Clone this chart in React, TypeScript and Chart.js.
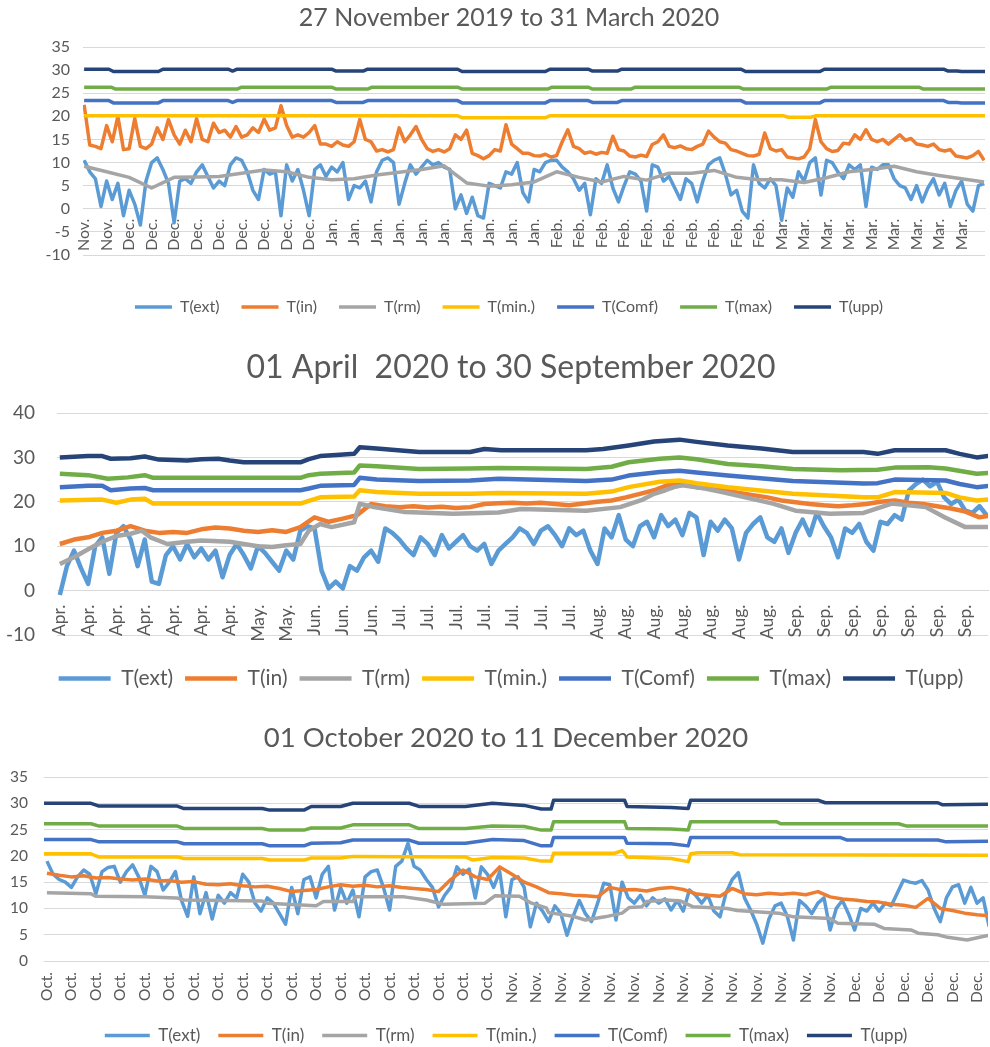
import React, { useEffect, useRef } from 'react';
import { Chart, registerables } from 'chart.js';

Chart.register(...registerables);

const FONT_FAMILY = 'Lato, "Open Sans", "DejaVu Sans", sans-serif';
const TEXT_COLOR = '#595959';
const GRID_COLOR = '#d9d9d9';

const seriesNames = ['T(ext)', 'T(in)', 'T(rm)', 'T(min.)', 'T(Comf)', 'T(max)', 'T(upp)'];
const seriesColors = ['#5B9BD5', '#ED7D31', '#A5A5A5', '#FFC000', '#4472C4', '#70AD47', '#264478'];

type Pair = [number, number];

// ---------------- Chart 1: 27 November 2019 to 31 March 2020 ----------------
const c1Title = '27 November 2019 to 31 March 2020';
const c1Months = ['Nov.', 'Dec.', 'Jan.', 'Feb.', 'Mar.'];
const c1MonthTicks = [2, 9, 10, 10, 9];
const c1Step = 0.25; // tick units between samples
const c1Ext = [
  10.5, 8.0, 6.5, 0.5, 6.0, 2.0, 5.5, -1.5, 4.0, 1.0, -3.5, 6.0, 10.0, 11.0, 8.5, 5.5,
  -3.0, 6.0, 6.5, 5.5, 8.0, 9.5, 7.0, 4.5, 6.0, 5.0, 9.5, 11.0, 10.5, 8.0, 4.0, 2.0,
  8.5, 7.5, 8.0, -1.5, 9.5, 6.0, 8.5, 4.0, -1.5, 8.5, 9.5, 7.0, 9.0, 8.0, 10.0, 2.0,
  5.0, 4.5, 6.0, 1.5, 8.0, 10.5, 11.0, 10.0, 1.0, 5.5, 9.5, 7.5, 9.0, 10.5, 9.5, 10.0,
  9.0, 8.5, 0.0, 3.0, -1.0, 2.5, -1.5, -2.0, 5.5, 5.0, 4.5, 8.0, 7.5, 10.0, 3.5, 1.5,
  8.5, 8.0, 10.0, 10.5, 10.5, 9.0, 8.0, 6.5, 4.0, 5.5, -1.3, 6.5, 5.5, 9.5, 4.5, 1.5,
  5.0, 8.0, 7.5, 6.0, -0.5, 9.5, 9.0, 6.0, 7.0, 4.5, 2.0, 6.5, 5.5, 1.5, 6.0, 9.5,
  10.5, 11.0, 7.5, 3.0, 4.0, -0.5, -2.0, 9.5, 5.5, 4.5, 6.5, 5.0, -2.5, 4.5, 2.5, 8.0,
  6.0, 10.0, 11.0, 3.0, 10.5, 10.0, 8.0, 6.5, 9.5, 8.5, 9.5, 0.5, 9.0, 8.5, 9.5, 9.5,
  6.5, 5.0, 4.5, 2.0, 5.0, 1.5, 4.5, 6.5, 3.0, 5.5, 0.5, 4.0, 6.0, 1.0, -0.5, 5.0,
  5.5,
];
const c1In = [
  22.5, 13.8, 13.5, 13.0, 18.0, 14.5, 20.0, 12.8, 13.0, 19.5, 13.5, 13.0, 14.0, 17.5, 15.0, 19.3,
  16.0, 14.0, 17.0, 14.5, 19.5, 15.0, 14.5, 18.5, 16.5, 17.0, 15.5, 17.8, 15.5, 16.0, 17.5, 16.5,
  19.4, 17.0, 17.5, 22.3, 18.0, 15.5, 16.0, 15.5, 16.5, 18.0, 14.0, 14.0, 13.5, 14.5, 13.8, 13.5,
  14.5, 19.3, 15.0, 14.5, 12.5, 12.8, 12.3, 12.8, 17.5, 14.5, 16.0, 17.8, 15.0, 13.0, 12.4, 12.8,
  12.3, 13.0, 16.0, 15.0, 17.0, 12.0, 11.5, 10.8, 11.5, 12.8, 12.5, 18.2, 14.0, 13.0, 12.0, 12.0,
  11.5, 11.4, 11.8, 11.2, 11.5, 14.5, 17.1, 13.5, 13.0, 12.0, 12.3, 11.8, 12.2, 12.0, 15.7, 12.8,
  12.5, 11.4, 11.2, 11.6, 11.3, 13.9, 14.5, 16.0, 13.5, 13.2, 13.6, 13.0, 12.8, 13.5, 14.0, 16.8,
  15.5, 14.5, 14.2, 12.8, 12.5, 12.0, 11.5, 11.4, 11.8, 16.4, 13.0, 12.5, 12.8, 11.2, 11.0, 10.8,
  11.2, 13.0, 19.3, 14.5, 13.0, 12.4, 12.6, 14.2, 14.0, 16.0, 15.0, 17.1, 15.0, 14.5, 15.0, 14.0,
  15.0, 16.0, 14.8, 15.2, 14.0, 13.8, 13.5, 14.0, 12.8, 12.5, 12.8, 11.4, 11.2, 11.0, 11.5, 12.4,
  10.5,
];
const c1RmStep = 1;
const c1Rm = [
  9.2, 8.0, 6.8, 4.5, 6.8, 6.9, 7.0, 7.7, 8.4, 8.0, 6.8, 6.3, 6.5, 7.3, 7.9, 8.5, 9.3, 5.6, 4.9, 5.2,
  5.8, 8.0, 6.8, 5.8, 7.0, 6.2, 7.7, 7.7, 8.3, 6.8, 6.3, 6.3, 5.7, 6.7, 8.0, 8.5, 9.2, 8.0, 7.2, 6.5, 5.8,
];
const c1Min: Pair[] = [
  [0, 20.1], [16.6, 20.1], [16.8, 19.7], [20.5, 19.7], [20.7, 20.1], [31.1, 20.1], [31.3, 19.8],
  [32.3, 19.8], [32.5, 20.1], [40.1, 20.1],
];
const c1Comf: Pair[] = [
  [0, 23.4], [1.1, 23.4], [1.3, 22.9], [3.3, 22.9], [3.5, 23.4], [6.4, 23.4], [6.6, 23.0], [6.8, 23.4],
  [11.0, 23.4], [11.2, 23.0], [12.4, 23.0], [12.6, 23.4], [16.6, 23.4], [16.8, 22.9], [20.5, 22.9],
  [20.7, 23.4], [22.4, 23.4], [22.6, 23.0], [23.7, 23.0], [23.9, 23.4], [29.2, 23.4], [29.4, 22.9],
  [32.7, 22.9], [32.9, 23.4], [38.2, 23.4], [38.4, 23.0], [38.8, 23.0], [39.0, 22.9], [40.1, 22.9],
];
const c1Max: Pair[] = [
  [0, 26.3], [1.2, 26.3], [1.4, 25.9], [6.8, 25.9], [7.0, 26.3], [11.0, 26.3], [11.2, 25.9], [12.6, 25.9],
  [12.8, 26.3], [16.6, 26.3], [16.8, 25.9], [20.6, 25.9], [20.8, 26.3], [22.4, 26.3], [22.6, 25.9],
  [24.3, 25.9], [24.5, 26.3], [29.1, 26.3], [29.3, 25.9], [33.0, 25.9], [33.2, 26.3], [37.1, 26.3],
  [37.3, 25.9], [40.1, 25.9],
];
const c1Upp: Pair[] = [
  [0, 30.2], [1.1, 30.2], [1.3, 29.7], [3.3, 29.7], [3.5, 30.2], [6.4, 30.2], [6.6, 29.8], [6.8, 30.2],
  [11.0, 30.2], [11.2, 29.8], [12.4, 29.8], [12.6, 30.2], [16.6, 30.2], [16.8, 29.7], [20.5, 29.7],
  [20.7, 30.2], [22.4, 30.2], [22.6, 29.8], [23.7, 29.8], [23.9, 30.2], [29.2, 30.2], [29.4, 29.7],
  [32.7, 29.7], [32.9, 30.2], [38.2, 30.2], [38.4, 29.8], [38.8, 29.8], [39.0, 29.7], [40.1, 29.7],
];

// ---------------- Chart 2: 01 April 2020 to 30 September 2020 ----------------
const c2Title = '01 April  2020 to 30 September 2020';
const c2Months = ['Apr.', 'May.', 'Jun.', 'Jul.', 'Aug.', 'Sep.'];
const c2MonthTicks = [7, 2, 3, 7, 7, 7];
const c2ExtStep = 0.25;
const c2Ext = [
  -1.0, 5.5, 9.0, 5.0, 1.5, 10.0, 12.0, 3.8, 13.0, 14.5, 11.5, 5.5, 11.5, 2.0, 1.5, 8.0,
  10.0, 7.0, 10.5, 7.5, 9.5, 7.0, 9.0, 3.0, 8.0, 10.5, 8.0, 5.0, 10.0, 8.5, 6.5, 4.5,
  9.0, 7.0, 13.5, 14.5, 14.0, 4.5, 0.5, 2.0, 0.5, 5.5, 4.5, 7.5, 9.0, 6.5, 14.0, 13.0,
  11.5, 9.5, 8.0, 12.0, 10.5, 8.0, 12.5, 9.5, 11.0, 12.5, 10.0, 9.0, 10.5, 6.0, 9.0, 10.5,
  12.0, 14.0, 13.0, 10.5, 13.5, 14.5, 12.5, 10.0, 14.0, 12.5, 13.5, 9.0, 6.0, 14.0, 12.0, 17.0,
  11.5, 10.0, 14.5, 15.5, 12.0, 17.0, 14.5, 16.0, 12.5, 17.5, 16.5, 8.0, 15.5, 13.5, 16.0, 14.0,
  7.0, 13.0, 15.0, 16.5, 12.0, 11.0, 14.0, 8.5, 13.0, 16.0, 12.5, 17.5, 14.5, 12.0, 7.5, 14.0,
  13.0, 15.0, 11.0, 9.0, 15.5, 15.0, 17.0, 16.0, 22.5, 24.0, 25.0, 23.5, 24.5, 21.0, 19.5, 20.5,
  18.0, 17.5, 19.0, 17.0,
];
const c2InStep = 0.5;
const c2In = [
  10.5, 11.5, 12.0, 13.0, 13.5, 14.5, 13.5, 13.0, 13.2, 13.0, 13.8, 14.2, 14.0, 13.5, 13.2, 13.6,
  13.2, 14.3, 16.5, 15.5, 16.2, 17.0, 19.5, 19.0, 18.8, 19.0, 18.7, 18.9, 18.6, 18.8, 19.5, 19.7,
  19.8, 19.6, 19.8, 19.5, 19.2, 19.6, 20.0, 20.3, 21.0, 21.8, 22.6, 23.8, 24.0, 23.3, 23.0, 22.6,
  22.0, 21.5, 21.0, 20.3, 19.9, 19.5, 19.2, 19.0, 19.2, 19.5, 20.0, 20.3, 19.8, 19.5, 19.0, 18.5,
  17.8, 16.5, 17.0,
];
const c2Rm: Pair[] = [
  [0, 6.0], [0.5, 7.5], [1, 9.3], [1.5, 11.0], [2, 12.3], [2.5, 12.8], [2.9, 13.5], [3.2, 12.0],
  [3.8, 10.5], [4.5, 11.0], [5, 11.3], [6, 11.0], [7, 10.0], [7.5, 9.8], [8, 10.2], [8.5, 10.5],
  [8.8, 13.5], [9.2, 15.0], [9.6, 14.3], [10.4, 15.4], [10.6, 19.6], [11.1, 18.8], [12.2, 17.7],
  [13.9, 17.3], [15.5, 17.6], [16.3, 18.4], [18.6, 18.0], [19.8, 18.8], [20.6, 20.5], [21.0, 21.8],
  [21.4, 22.6], [21.7, 23.3], [22.0, 23.7], [22.8, 23.0], [23.4, 22.2], [25.2, 19.6], [26.0, 18.0],
  [27.2, 17.3], [28.4, 17.5], [29.4, 19.6], [30.6, 18.8], [31.3, 16.4], [32.0, 14.3], [32.9, 14.3],
];
const c2Min: Pair[] = [
  [0, 20.3], [1.5, 20.5], [2.0, 19.8], [2.5, 20.5], [3.0, 20.7], [3.3, 19.6], [8.5, 19.6], [8.8, 20.2],
  [9.2, 21.0], [10.4, 21.2], [10.6, 22.6], [11.2, 22.2], [12.7, 21.8], [14.5, 21.8], [15.5, 22.0],
  [18.6, 21.8], [19.5, 22.3], [20.1, 23.3], [21.2, 24.5], [21.9, 24.8], [22.5, 24.2], [23.6, 23.3],
  [25.9, 21.8], [28.4, 21.0], [28.9, 21.0], [29.5, 22.2], [31.3, 22.0], [31.8, 21.0], [32.4, 20.3],
  [32.9, 20.6],
];
const c2Comf: Pair[] = [
  [0, 23.3], [1.0, 23.6], [1.5, 23.6], [1.8, 22.6], [2.5, 23.0], [3.0, 23.1], [3.3, 22.6], [8.5, 22.6],
  [8.8, 23.0], [9.2, 23.6], [10.4, 23.8], [10.6, 25.4], [11.2, 25.0], [12.7, 24.7], [14.5, 24.8],
  [15.5, 25.2], [18.6, 24.7], [19.5, 25.0], [20.1, 25.9], [21.2, 26.7], [21.9, 27.0], [22.5, 26.6],
  [23.6, 25.9], [25.9, 24.7], [28.4, 24.1], [28.9, 24.2], [29.5, 25.0], [31.3, 24.8], [31.8, 24.0],
  [32.4, 23.3], [32.9, 23.6],
];
const c2Max: Pair[] = [
  [0, 26.3], [1.0, 26.0], [1.7, 25.2], [2.4, 25.5], [3.0, 26.0], [3.3, 25.4], [8.5, 25.4], [8.8, 26.0],
  [9.2, 26.3], [10.4, 26.6], [10.6, 28.2], [11.2, 28.0], [12.7, 27.4], [14.5, 27.5], [15.5, 27.6],
  [18.6, 27.4], [19.5, 27.9], [20.1, 28.9], [21.2, 29.7], [21.9, 30.0], [22.5, 29.6], [23.6, 28.5],
  [24.8, 28.0], [25.9, 27.4], [27.6, 27.1], [28.9, 27.2], [29.5, 27.7], [30.7, 27.8], [31.3, 27.5],
  [32.4, 26.3], [32.9, 26.5],
];
const c2Upp: Pair[] = [
  [0, 30.0], [1.0, 30.3], [1.5, 30.3], [1.8, 29.7], [2.5, 29.8], [3.0, 30.2], [3.5, 29.5], [4.5, 29.3],
  [5.0, 29.6], [5.6, 29.7], [6.0, 29.3], [6.5, 28.9], [8.5, 28.9], [8.8, 29.6], [9.2, 30.3], [9.9, 30.6],
  [10.4, 30.8], [10.6, 32.3], [11.2, 32.0], [12.7, 31.2], [14.5, 31.2], [15.0, 31.9], [15.6, 31.6],
  [18.6, 31.6], [19.2, 31.9], [20.1, 32.7], [21.0, 33.6], [21.9, 34.0], [22.5, 33.5], [23.6, 32.7],
  [24.8, 32.0], [25.9, 31.2], [28.4, 31.2], [28.9, 30.8], [29.5, 31.6], [31.3, 31.6], [31.8, 30.8],
  [32.4, 30.0], [32.9, 30.4],
];

// ---------------- Chart 3: 01 October 2020 to 11 December 2020 ----------------
const c3Title = '01 October 2020 to 11 December 2020';
const c3Months = ['Oct.', 'Nov.', 'Dec.'];
const c3MonthTicks = [19, 14, 6];
const c3ExtStep = 0.25;
const c3Ext = [
  19.0, 16.5, 15.5, 15.0, 14.0, 16.0, 17.3, 16.5, 12.8, 17.0, 17.8, 18.0, 15.0, 17.0, 18.3, 16.0,
  12.5, 18.0, 17.0, 13.5, 15.0, 17.0, 11.5, 8.5, 16.0, 9.0, 13.0, 8.0, 12.5, 11.0, 13.0, 12.0,
  16.5, 15.0, 11.0, 9.5, 12.0, 11.0, 9.0, 7.0, 14.0, 9.0, 15.5, 16.0, 12.0, 16.5, 18.0, 9.7,
  14.0, 11.0, 13.5, 8.4, 16.0, 17.0, 17.3, 14.0, 9.7, 18.0, 19.0, 22.4, 18.0, 17.3, 15.5, 14.0,
  10.3, 12.5, 14.0, 17.9, 16.5, 17.5, 12.0, 17.9, 16.5, 14.0, 17.0, 8.4, 15.5, 16.0, 14.0, 6.5,
  11.0, 9.5, 7.5, 10.5, 9.0, 4.9, 8.5, 11.5, 9.0, 7.5, 11.0, 14.8, 14.5, 7.8, 15.0, 12.0,
  11.0, 12.5, 10.5, 12.0, 11.0, 11.8, 9.7, 11.5, 9.5, 13.5, 12.5, 11.0, 12.5, 9.5, 8.4, 13.0,
  15.5, 16.8, 12.0, 9.7, 7.0, 3.4, 8.0, 10.5, 11.0, 8.5, 4.0, 11.5, 10.5, 9.0, 11.0, 12.0,
  5.9, 10.0, 11.5, 9.0, 5.9, 10.0, 9.5, 11.0, 9.5, 11.0, 10.5, 13.0, 15.4, 15.0, 14.8, 15.3,
  13.5, 10.0, 7.5, 12.0, 14.1, 14.5, 11.0, 14.0, 11.0, 12.0, 6.5,
];
const c3InStep = 0.5;
const c3In = [
  16.7, 16.3, 16.0, 16.2, 15.8, 15.9, 15.6, 15.4, 15.6, 15.2, 15.3, 15.0, 15.1, 14.6, 14.5, 14.7,
  14.3, 14.1, 14.2, 13.8, 13.2, 13.4, 13.6, 14.1, 14.5, 14.2, 14.4, 14.1, 14.3, 14.0, 13.8, 13.6,
  13.2, 15.5, 17.3, 16.0, 15.5, 17.9, 16.5, 15.0, 14.1, 13.0, 12.8, 12.5, 12.4, 12.2, 14.0, 13.5,
  13.6, 13.3, 13.8, 14.0, 13.6, 12.8, 12.5, 12.3, 13.8, 12.8, 12.6, 12.9, 12.7, 12.9, 12.6, 13.2,
  12.2, 11.8, 11.6, 11.3, 11.2, 10.8, 10.6, 10.2, 11.9, 10.0, 9.6, 9.1, 8.8, 8.6,
];
const c3Rm: Pair[] = [
  [0, 13.0], [1.8, 12.8], [2.0, 12.3], [4.0, 12.2], [5.3, 12.0], [5.6, 11.6], [8.8, 11.4], [9.0, 11.0],
  [11.0, 10.5], [11.3, 11.3], [12.5, 11.3], [12.6, 12.2], [14.6, 12.2], [15.5, 11.6], [16.2, 10.8],
  [17.9, 11.0], [18.3, 12.4], [19.3, 12.3], [19.8, 11.0], [20.4, 10.1], [20.5, 9.2], [21.5, 8.5],
  [22.0, 7.8], [22.8, 8.4], [23.5, 9.1], [23.8, 10.2], [24.3, 10.3], [24.5, 11.3], [25.3, 11.6],
  [25.9, 11.4], [26.4, 10.3], [27.8, 10.0], [28.2, 9.6], [29.9, 9.1], [30.5, 8.4], [32.0, 8.1],
  [32.3, 7.2], [33.8, 7.0], [34.2, 6.2], [35.3, 5.9], [35.6, 5.3], [36.4, 5.0], [36.8, 4.5],
  [37.6, 4.0], [38.2, 4.6], [38.5, 4.9],
];
const c3Min: Pair[] = [
  [-0.2, 20.4], [1.8, 20.4], [2.1, 19.8], [5.3, 19.8], [5.6, 19.5], [8.8, 19.5], [9.1, 19.2], [10.5, 19.2],
  [10.8, 19.6], [12.0, 19.6], [12.5, 19.9], [17.1, 19.8], [17.4, 19.2], [18.2, 19.7], [19.5, 19.6],
  [20.2, 19.0], [20.6, 19.0], [20.7, 20.5], [23.2, 20.5], [23.5, 21.0], [23.6, 20.5], [23.7, 19.8],
  [25.5, 19.5], [26.2, 18.9], [26.3, 20.4], [26.6, 20.6], [28.0, 20.6], [28.3, 20.2], [38.5, 20.1],
];
const c3Comf: Pair[] = [
  [-0.2, 23.1], [1.8, 23.1], [2.1, 22.7], [5.3, 22.7], [5.6, 22.3], [8.8, 22.3], [9.1, 21.9], [10.5, 21.9],
  [10.8, 22.4], [12.0, 22.5], [12.5, 23.0], [14.8, 23.0], [15.2, 22.4], [17.1, 22.4], [18.2, 23.1],
  [19.5, 22.9], [20.2, 21.9], [20.6, 21.9], [20.7, 23.5], [23.6, 23.5], [23.7, 22.4], [25.5, 22.3],
  [26.2, 21.9], [26.3, 23.5], [32.4, 23.5], [32.7, 23.0], [36.4, 23.0], [36.7, 22.7], [38.5, 22.8],
];
const c3Max: Pair[] = [
  [-0.2, 26.1], [1.8, 26.1], [2.1, 25.7], [5.3, 25.7], [5.6, 25.2], [8.8, 25.2], [9.1, 24.9], [10.5, 24.9],
  [10.8, 25.3], [12.0, 25.3], [12.5, 25.9], [14.8, 25.9], [15.2, 25.2], [17.1, 25.2], [18.2, 25.7],
  [19.5, 25.6], [20.2, 24.9], [20.6, 24.9], [20.7, 26.5], [23.6, 26.5], [23.7, 25.2], [25.5, 25.1],
  [26.2, 24.9], [26.3, 26.5], [29.8, 26.5], [30.0, 26.1], [34.8, 26.1], [35.1, 25.7], [38.5, 25.7],
];
const c3Upp: Pair[] = [
  [-0.2, 30.0], [1.8, 30.0], [2.1, 29.5], [5.3, 29.5], [5.6, 29.0], [8.8, 29.0], [9.1, 28.7], [10.5, 28.7],
  [10.8, 29.4], [12.0, 29.4], [12.5, 30.0], [14.8, 30.0], [15.2, 29.4], [17.1, 29.4], [18.2, 30.0],
  [19.5, 29.6], [20.2, 28.9], [20.6, 28.9], [20.7, 30.6], [23.6, 30.6], [23.7, 29.4], [25.5, 29.2],
  [26.2, 29.0], [26.3, 30.6], [31.5, 30.6], [31.8, 30.1], [36.4, 30.1], [36.6, 29.7], [38.5, 29.8],
];

// ---------------- helpers ----------------
type Pt = { x: number; y: number };
const uniform = (vals: number[], step: number): Pt[] => vals.map((y, i) => ({ x: i * step, y }));
const pairs = (arr: Pair[]): Pt[] => arr.map(([x, y]) => ({ x, y }));
const buildLabels = (months: string[], counts: number[]): string[] => {
  const out: string[] = [];
  months.forEach((m, i) => {
    for (let k = 0; k < counts[i]; k++) out.push(m);
  });
  return out;
};

interface PanelSpec {
  top: number;
  width: number;
  height: number;
  title: string;
  titleSize: number;
  titlePadTop: number;
  titlePadBottom: number;
  labels: string[];
  xMin: number;
  xMax: number;
  yMin: number;
  yMax: number;
  yStep: number;
  yTickSize: number;
  xTickSize: number;
  xLabelPad: number;
  yAxisWidth: number;
  yLabelPad: number;
  rightGap: number;
  legendSize: number;
  legendPad: number;
  legendLine: number;
  lineWidth: number;
  axisAtZero: boolean;
  bottomGap: number;
  series: Pt[][];
}

const panels: PanelSpec[] = [
  {
    top: 0,
    width: 1018,
    height: 325,
    title: c1Title,
    titleSize: 25,
    titlePadTop: 3,
    titlePadBottom: 14,
    labels: buildLabels(c1Months, c1MonthTicks),
    xMin: -0.05,
    xMax: 40.04,
    yMin: -10,
    yMax: 35,
    yStep: 5,
    yTickSize: 16,
    xTickSize: 16,
    xLabelPad: 10,
    yAxisWidth: 83,
    yLabelPad: 13,
    rightGap: 33,
    legendSize: 16,
    legendPad: 22,
    legendLine: 37,
    lineWidth: 3.5,
    axisAtZero: true,
    bottomGap: 22,
    series: [
      uniform(c1Ext, c1Step),
      uniform(c1In, c1Step),
      uniform(c1Rm, c1RmStep),
      pairs(c1Min),
      pairs(c1Comf),
      pairs(c1Max),
      pairs(c1Upp),
    ],
  },
  {
    top: 335,
    width: 1022,
    height: 364,
    title: c2Title,
    titleSize: 32,
    titlePadTop: 13.8,
    titlePadBottom: 25.8,
    labels: buildLabels(c2Months, c2MonthTicks),
    xMin: -0.1,
    xMax: 32.8,
    yMin: -10,
    yMax: 40,
    yStep: 10,
    yTickSize: 19,
    xTickSize: 17.5,
    xLabelPad: 14,
    yAxisWidth: 57,
    yLabelPad: 22,
    rightGap: 34,
    legendSize: 21,
    legendPad: 12,
    legendLine: 52,
    lineWidth: 4.5,
    axisAtZero: true,
    bottomGap: 21,
    series: [
      uniform(c2Ext, c2ExtStep),
      uniform(c2In, c2InStep),
      pairs(c2Rm),
      pairs(c2Min),
      pairs(c2Comf),
      pairs(c2Max),
      pairs(c2Upp),
    ],
  },
  {
    top: 700,
    width: 1012,
    height: 354,
    title: c3Title,
    titleSize: 27.5,
    titlePadTop: 21.5,
    titlePadBottom: 22.5,
    labels: buildLabels(c3Months, c3MonthTicks),
    xMin: -0.12,
    xMax: 38.45,
    yMin: 0,
    yMax: 35,
    yStep: 5,
    yTickSize: 15.5,
    xTickSize: 15.5,
    xLabelPad: 11,
    yAxisWidth: 44,
    yLabelPad: 16,
    rightGap: 24,
    legendSize: 17,
    legendPad: 18,
    legendLine: 45,
    lineWidth: 3.5,
    axisAtZero: false,
    bottomGap: 48,
    series: [
      uniform(c3Ext, c3ExtStep),
      uniform(c3In, c3InStep),
      pairs(c3Rm),
      pairs(c3Min),
      pairs(c3Comf),
      pairs(c3Max),
      pairs(c3Upp),
    ],
  },
];

function Panel({ spec }: { spec: PanelSpec }) {
  const ref = useRef<HTMLCanvasElement>(null);

  useEffect(() => {
    const canvas = ref.current;
    if (!canvas) return;
    const labels = spec.labels;

    const xAxis: any = {
      type: 'linear',
      min: spec.xMin,
      max: spec.xMax,
      position: spec.axisAtZero ? { y: 0 } : 'bottom',
      grid: { display: false, drawTicks: false },
      border: { display: true, color: GRID_COLOR, width: 1 },
      afterBuildTicks: (scale: any) => {
        scale.ticks = labels.map((_l, i) => ({ value: i }));
      },
      ticks: {
        autoSkip: false,
        minRotation: 90,
        maxRotation: 90,
        padding: spec.xLabelPad,
        color: TEXT_COLOR,
        font: { size: spec.xTickSize, family: FONT_FAMILY },
        callback: (_v: any, i: number) => labels[i],
      },
    };
    if (!spec.axisAtZero) {
      xAxis.afterFit = (s: any) => {
        s.height = spec.bottomGap;
      };
    }

    const scales: any = {
      x: xAxis,
      y: {
        type: 'linear',
        position: 'left',
        min: spec.yMin,
        max: spec.yMax,
        grid: { color: GRID_COLOR, lineWidth: 1, drawTicks: false },
        border: { display: false },
        ticks: {
          stepSize: spec.yStep,
          padding: spec.yLabelPad,
          color: TEXT_COLOR,
          font: { size: spec.yTickSize, family: FONT_FAMILY },
        },
        afterFit: (s: any) => {
          s.width = spec.yAxisWidth;
        },
      },
      yspace: {
        type: 'linear',
        axis: 'y',
        position: 'right',
        display: true,
        grid: { display: false, drawTicks: false },
        border: { display: false },
        ticks: { display: false },
        afterFit: (s: any) => {
          s.width = spec.rightGap;
        },
      },
    };
    if (spec.axisAtZero) {
      scales.xgap = {
        type: 'linear',
        axis: 'x',
        position: 'bottom',
        display: true,
        grid: { display: false, drawTicks: false },
        border: { display: false },
        ticks: { display: false },
        afterFit: (s: any) => {
          s.height = spec.bottomGap;
        },
      };
    }

    const datasets = spec.series.map((data, i) => ({
      label: seriesNames[i],
      data,
      borderColor: seriesColors[i],
      backgroundColor: seriesColors[i],
      borderWidth: spec.lineWidth,
      pointRadius: 0,
      pointHoverRadius: 0,
      tension: 0,
      fill: false,
      borderJoinStyle: 'round' as const,
      order: seriesNames.length - i,
    }));

    const chart = new Chart(canvas, {
      type: 'line',
      data: { datasets },
      options: {
        responsive: false,
        maintainAspectRatio: false,
        animation: false,
        devicePixelRatio: 1,
        events: [],
        layout: { padding: 0 },
        scales,
        plugins: {
          tooltip: { enabled: false },
          title: {
            display: true,
            text: spec.title,
            color: TEXT_COLOR,
            font: { size: spec.titleSize, family: FONT_FAMILY, weight: 'normal' as any },
            padding: { top: spec.titlePadTop, bottom: spec.titlePadBottom },
          },
          legend: {
            display: true,
            position: 'bottom',
            labels: {
              usePointStyle: true,
              pointStyle: 'line',
              pointStyleWidth: spec.legendLine,
              padding: spec.legendPad,
              color: TEXT_COLOR,
              font: { size: spec.legendSize, family: FONT_FAMILY },
              sort: (a: any, b: any) => a.datasetIndex - b.datasetIndex,
            },
          },
        },
      } as any,
    });

    return () => {
      chart.destroy();
    };
  }, [spec]);

  return (
    <canvas
      ref={ref}
      width={spec.width}
      height={spec.height}
      style={{
        position: 'absolute',
        left: 0,
        top: spec.top,
        width: spec.width,
        height: spec.height,
        display: 'block',
      }}
    />
  );
}

export default function App() {
  useEffect(() => {
    Chart.defaults.font.family = FONT_FAMILY;
  }, []);
  return (
    <div
      style={{
        position: 'fixed',
        left: 0,
        top: 0,
        width: 990,
        height: 1047,
        overflow: 'hidden',
        background: '#ffffff',
      }}
    >
      {panels.map((p, i) => (
        <Panel key={i} spec={p} />
      ))}
    </div>
  );
}
